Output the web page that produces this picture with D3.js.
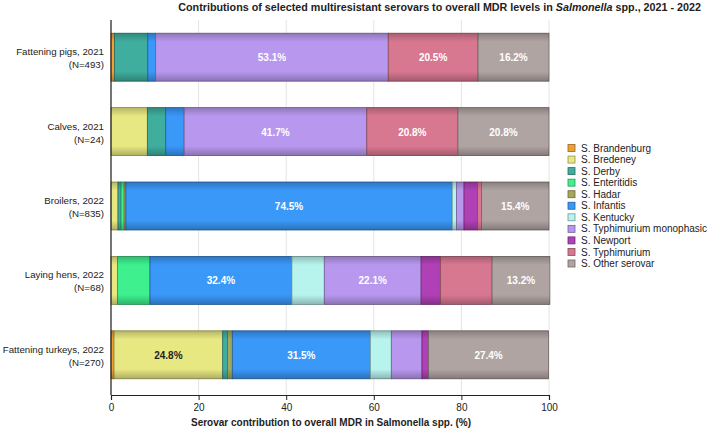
<!DOCTYPE html>
<html><head><meta charset="utf-8">
<script src="https://cdn.jsdelivr.net/npm/d3@7"></script>
<style>body{margin:0;background:#fff;} svg{display:block;font-family:"Liberation Sans",Arial,sans-serif;}</style>
</head><body>
<svg id="chart" width="709" height="432"></svg>
<script>
const categories = ["Fattening pigs, 2021|(N=493)", "Calves, 2021|(N=24)", "Broilers, 2022|(N=835)", "Laying hens, 2022|(N=68)", "Fattening turkeys, 2022|(N=270)"];
const serovars = ["S. Brandenburg","S. Bredeney","S. Derby","S. Enteritidis","S. Hadar","S. Infantis","S. Kentucky","S. Typhimurium monophasic","S. Newport","S. Typhimurium","S. Other serovar"];
const colors = ["#f0a032","#e8e882","#3fae9e","#3ef08e","#a2a85e","#3a98f8","#b8f4ee","#b898ee","#b040b6","#d87890","#b0a4a2"];
// values per serovar, one entry per category (%)
const brandenburg = [0.8, 0, 0, 0, 0.7];
const bredeney    = [0, 8.3, 1.6, 1.5, 24.8];
const derby       = [7.6, 4.2, 0.7, 0, 1.1];
const enteritidis = [0, 0, 0.7, 7.4, 0];
const hadar       = [0, 0, 0.4, 0, 1.1];
const infantis    = [1.8, 4.2, 74.5, 32.4, 31.5];
const kentucky    = [0, 0, 1.0, 7.4, 4.8];
const monophasic  = [53.1, 41.7, 1.7, 22.1, 7.0];
const newport     = [0, 0, 3.1, 4.4, 1.5];
const typhimurium = [20.5, 20.8, 0.9, 11.8, 0];
const other       = [16.2, 20.8, 15.4, 13.2, 27.4];
const xTicks = [0, 20, 40, 60, 80, 100];
const seriesValues = [brandenburg, bredeney, derby, enteritidis, hadar, infantis, kentucky, monophasic, newport, typhimurium, other];

const svg = d3.select("#chart");
const x = d3.scaleLinear().domain([0, 100]).range([111, 549]);
const y = d3.scaleBand().domain(categories).range([20, 392]).paddingInner(0.355).paddingOuter(0.1775);
const color = d3.scaleOrdinal().domain(serovars).range(colors);

const defs = svg.append("defs");
const g = defs.append("linearGradient").attr("id","shade").attr("x1",0).attr("x2",0).attr("y1",0).attr("y2",1);
g.append("stop").attr("offset","0%").attr("stop-color","#000").attr("stop-opacity",0.22);
g.append("stop").attr("offset","18%").attr("stop-color","#000").attr("stop-opacity",0.0);
g.append("stop").attr("offset","80%").attr("stop-color","#000").attr("stop-opacity",0.0);
g.append("stop").attr("offset","100%").attr("stop-color","#000").attr("stop-opacity",0.25);

svg.append("g").selectAll("line").data(xTicks).join("line")
  .attr("x1", d => x(d)).attr("x2", d => x(d)).attr("y1", 20).attr("y2", 395)
  .attr("stroke", "#e4e4e4").attr("stroke-width", 1);

const rows = categories.map((c, i) => {
  const o = {cat: c};
  serovars.forEach((s, j) => o[s] = seriesValues[j][i]);
  return o;
});
const stacked = d3.stack().keys(serovars)(rows);

const layers = svg.append("g").selectAll("g").data(stacked).join("g");
layers.each(function(layer) {
  const gl = d3.select(this);
  const segs = layer.filter(d => d[1] - d[0] > 0);
  gl.selectAll("rect.fill").data(segs).join("rect").attr("class","fill")
    .attr("x", d => x(d[0])).attr("width", d => x(d[1]) - x(d[0]))
    .attr("y", d => y(d.data.cat)).attr("height", y.bandwidth())
    .attr("fill", color(layer.key))
    .attr("stroke", d3.color(color(layer.key)).darker(1.3)).attr("stroke-width", 0.8);
  gl.selectAll("rect.shade").data(segs).join("rect").attr("class","shade")
    .attr("x", d => x(d[0])).attr("width", d => x(d[1]) - x(d[0]))
    .attr("y", d => y(d.data.cat)).attr("height", y.bandwidth())
    .attr("fill", "url(#shade)");
  gl.selectAll("text").data(layer.filter(d => d[1] - d[0] >= 13)).join("text")
    .attr("x", d => (x(d[0]) + x(d[1])) / 2).attr("y", d => y(d.data.cat) + y.bandwidth()/2 + 4)
    .attr("text-anchor", "middle").attr("font-size", 10).attr("font-weight", "bold")
    .attr("fill", layer.key === "S. Bredeney" ? "#222" : "#fff")
    .text(d => (d[1] - d[0]).toFixed(1) + "%");
});

svg.append("line").attr("x1", 111).attr("x2", 111).attr("y1", 20).attr("y2", 395).attr("stroke", "#222").attr("stroke-width", 1.2);
const xAxis = svg.append("g").attr("transform", "translate(0,395)")
  .call(d3.axisBottom(x).tickValues(xTicks).tickSize(5).tickPadding(4));
xAxis.select(".domain").attr("stroke", "#222").attr("stroke-width", 1.2);
xAxis.selectAll(".tick line").attr("stroke", "#222");
xAxis.selectAll("text").attr("font-size", 10).attr("fill", "#222").attr("font-family", "Liberation Sans, Arial, sans-serif");

const yl = svg.append("g").selectAll("text").data(categories).join("text")
  .attr("text-anchor", "end").attr("font-size", 9.7).attr("fill", "#222");
yl.each(function(c) {
  const parts = c.split("|");
  const cy = y(c) + y.bandwidth()/2;
  d3.select(this).append("tspan").attr("x", 104).attr("y", cy - 2).text(parts[0]);
  d3.select(this).append("tspan").attr("x", 104).attr("y", cy + 11).text(parts[1]);
});

svg.append("text").attr("x", 331).attr("y", 426).attr("text-anchor", "middle")
  .attr("font-size", 10).attr("font-weight", "bold").attr("fill", "#222")
  .text("Serovar contribution to overall MDR in Salmonella spp. (%)");

const t = svg.append("text").attr("x", 701).attr("y", 11).attr("text-anchor", "end")
  .attr("font-size", 10.75).attr("font-weight", "bold").attr("fill", "#222");
t.append("tspan").text("Contributions of selected multiresistant serovars to overall MDR levels in ");
t.append("tspan").attr("font-style", "italic").text("Salmonella");
t.append("tspan").text(" spp., 2021 - 2022");

const lg = svg.append("g").selectAll("g").data(serovars).join("g")
  .attr("transform", (d, i) => `translate(568,${148 + i * 11.55})`);
lg.append("rect").attr("x", 0).attr("y", -3.5).attr("width", 7).attr("height", 7)
  .attr("fill", d => color(d)).attr("stroke", d => d3.color(color(d)).darker(1.3)).attr("stroke-width", 0.8);
lg.append("text").attr("x", 13).attr("y", 3.6).attr("font-size", 10).attr("fill", "#222").text(d => d);
</script>
</body></html>
